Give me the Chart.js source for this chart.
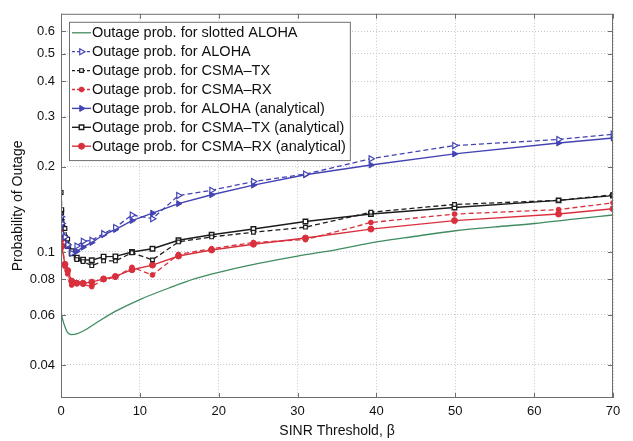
<!DOCTYPE html>
<html>
<head>
<meta charset="utf-8">
<script src="https://cdn.jsdelivr.net/npm/chart.js@4.4.1/dist/chart.umd.min.js"></script>
<style>
  html, body { margin: 0; padding: 0; background: #fff; }
  .chart-container { width: 633px; height: 441px; position: relative; }
</style>
</head>
<body>
<div class="chart-container"><canvas id="outageChart"></canvas></div>
<script>
// SINR thresholds of the simulated / analytical points
const betaPoints = [0.02, 0.1, 0.5, 0.85, 1.35, 2, 2.8, 3.9, 5.4, 6.9, 9, 11.6, 14.9, 19.1, 24.4, 31, 39.3, 49.9, 63.1, 70];

const alohaSim = [0.133, 0.126, 0.113, 0.106, 0.099, 0.105, 0.109, 0.110, 0.116, 0.122, 0.135, 0.131, 0.158, 0.165, 0.177, 0.188, 0.213, 0.237, 0.249, 0.26];
const alohaAna = [0.130, 0.124, 0.112, 0.105, 0.100, 0.1005, 0.104, 0.108, 0.115, 0.120, 0.129, 0.137, 0.148, 0.159, 0.172, 0.187, 0.2025, 0.2215, 0.242, 0.252];
const txSim = [0.162, 0.141, 0.121, 0.111, 0.101, 0.094, 0.0925, 0.0895, 0.093, 0.093, 0.0994, 0.0938, 0.1085, 0.113, 0.1173, 0.1223, 0.138, 0.147, 0.152, 0.159];
const txAna = [0.138, 0.125, 0.112, 0.105, 0.099, 0.0955, 0.094, 0.0935, 0.0963, 0.0965, 0.100, 0.1027, 0.110, 0.115, 0.1205, 0.128, 0.136, 0.1434, 0.152, 0.158];
const rxSim = [0.120, 0.110, 0.089, 0.0837, 0.0765, 0.078, 0.077, 0.0755, 0.080, 0.0815, 0.0883, 0.083, 0.098, 0.1027, 0.108, 0.1105, 0.127, 0.136, 0.141, 0.149];
const rxAna = [0.112, 0.105, 0.0905, 0.086, 0.079, 0.0776, 0.0776, 0.0783, 0.0804, 0.082, 0.0866, 0.0899, 0.0968, 0.1016, 0.1065, 0.112, 0.1204, 0.129, 0.136, 0.142];

// slotted ALOHA curve (no markers)
const slottedX = [0, 0.2, 0.5, 0.8, 1.3, 2, 3, 4, 5, 7, 10, 14, 17, 20, 24, 30, 35, 40, 45, 50, 55, 60, 65, 70];
const slottedY = [0.062, 0.058, 0.0545, 0.0522, 0.0512, 0.0515, 0.053, 0.0552, 0.0575, 0.062, 0.068, 0.0752, 0.0805, 0.0848, 0.0899, 0.0967, 0.102, 0.1085, 0.1136, 0.1188, 0.1225, 0.126, 0.1305, 0.135];

const xTicks = [0, 10, 20, 30, 40, 50, 60, 70];
const yTicks = [0.04, 0.06, 0.08, 0.1, 0.2, 0.3, 0.4, 0.5, 0.6];

const BLUE = '#4343b4';
const BLACK = '#1c1c1c';
const RED = '#d9303d';
const GREEN = '#3f8c60';

const pts = (xs, ys) => xs.map((x, i) => ({ x: x, y: ys[i] }));

const datasets = [
    {
        label: 'Outage prob. for slotted ALOHA',
        data: pts(slottedX, slottedY),
        borderColor: GREEN, borderWidth: 1.3,
        pointRadius: 0, cubicInterpolationMode: 'monotone'
    },
    {
        label: 'Outage prob. for ALOHA',
        data: pts(betaPoints, alohaSim),
        borderColor: BLUE, borderWidth: 1.3, borderDash: [5, 3],
        pointStyle: 'triangle', rotation: 90, pointRadius: 3.5,
        pointBackgroundColor: '#fff', pointBorderColor: BLUE, pointBorderWidth: 1.2
    },
    {
        label: 'Outage prob. for CSMA\u2013TX',
        data: pts(betaPoints, txSim),
        borderColor: BLACK, borderWidth: 1.3, borderDash: [5, 3],
        pointStyle: 'rect', pointRadius: 2.6,
        pointBackgroundColor: '#fff', pointBorderColor: BLACK, pointBorderWidth: 1.2
    },
    {
        label: 'Outage prob. for CSMA\u2013RX',
        data: pts(betaPoints, rxSim),
        borderColor: RED, borderWidth: 1.3, borderDash: [5, 3],
        pointStyle: 'circle', pointRadius: 2.4,
        pointBackgroundColor: RED, pointBorderColor: RED, pointBorderWidth: 1
    },
    {
        label: 'Outage prob. for ALOHA (analytical)',
        data: pts(betaPoints, alohaAna),
        borderColor: BLUE, borderWidth: 1.4,
        pointStyle: 'triangle', rotation: 90, pointRadius: 3.5,
        pointBackgroundColor: BLUE, pointBorderColor: BLUE, pointBorderWidth: 1
    },
    {
        label: 'Outage prob. for CSMA\u2013TX (analytical)',
        data: pts(betaPoints, txAna),
        borderColor: BLACK, borderWidth: 1.4,
        pointStyle: 'rect', pointRadius: 3.2,
        pointBackgroundColor: '#fff', pointBorderColor: BLACK, pointBorderWidth: 1.4
    },
    {
        label: 'Outage prob. for CSMA\u2013RX (analytical)',
        data: pts(betaPoints, rxAna),
        borderColor: RED, borderWidth: 1.4,
        pointStyle: 'circle', pointRadius: 3,
        pointBackgroundColor: RED, pointBorderColor: RED, pointBorderWidth: 1
    }
];

// frame, inside tick marks and the boxed legend in the upper-left corner
const framePlugin = {
    id: 'frame',
    afterDraw(chart) {
        const ctx = chart.ctx;
        const a = chart.chartArea;
        const xs = chart.scales.x, ys = chart.scales.y;
        ctx.save();
        ctx.strokeStyle = '#6e6e6e';
        ctx.lineWidth = 1;
        ctx.setLineDash([]);
        ctx.strokeRect(a.left + 0.5, a.top + 0.5, a.width - 1, a.height - 1);
        ctx.beginPath();
        xTicks.forEach(v => {
            const px = Math.round(xs.getPixelForValue(v)) + 0.5;
            ctx.moveTo(px, a.bottom); ctx.lineTo(px, a.bottom - 5);
            ctx.moveTo(px, a.top); ctx.lineTo(px, a.top + 5);
        });
        yTicks.forEach(v => {
            const py = Math.round(ys.getPixelForValue(v)) + 0.5;
            ctx.moveTo(a.left, py); ctx.lineTo(a.left + 5, py);
            ctx.moveTo(a.right, py); ctx.lineTo(a.right - 5, py);
        });
        ctx.stroke();

        // legend
        const bx = a.left + 8, by = a.top + 8, rowH = 18.9;
        ctx.font = '14.5px "Liberation Sans", Arial, sans-serif';
        let maxW = 0;
        chart.data.datasets.forEach(d => { maxW = Math.max(maxW, ctx.measureText(d.label).width); });
        const bw = 23 + maxW + 4, bh = chart.data.datasets.length * rowH + 6;
        ctx.fillStyle = '#fff';
        ctx.fillRect(bx, by, bw, bh);
        ctx.strokeStyle = '#6e6e6e';
        ctx.strokeRect(bx + 0.5, by + 0.5, bw, bh);
        chart.data.datasets.forEach((d, i) => {
            const cy = by + 11 + i * rowH;
            ctx.strokeStyle = d.borderColor;
            ctx.lineWidth = d.borderWidth;
            ctx.setLineDash(d.borderDash ? [3, 2] : []);
            ctx.beginPath();
            ctx.moveTo(bx + 3, cy); ctx.lineTo(bx + 22, cy);
            ctx.stroke();
            ctx.setLineDash([]);
            if (d.pointRadius > 0) {
                ctx.fillStyle = d.pointBackgroundColor;
                ctx.strokeStyle = d.pointBorderColor;
                ctx.lineWidth = d.pointBorderWidth;
                Chart.helpers.drawPoint(ctx, {
                    pointStyle: d.pointStyle, rotation: d.rotation || 0,
                    radius: d.pointRadius, borderWidth: d.pointBorderWidth
                }, bx + 12.5, cy);
            }
            ctx.fillStyle = '#111';
            ctx.textAlign = 'left';
            ctx.textBaseline = 'middle';
            ctx.fillText(d.label, bx + 23, cy + 0.5);
        });
        ctx.restore();
    }
};

const tickFont = { family: '"Liberation Sans", Arial, sans-serif', size: 13 };
const titleFont = { family: '"Liberation Sans", Arial, sans-serif', size: 14 };
const gridColor = '#c4c6d4';

const ctx = document.getElementById('outageChart').getContext('2d');
const outageChart = new Chart(ctx, {
    type: 'line',
    data: { datasets: datasets },
    options: {
        responsive: true,
        maintainAspectRatio: false,
        animation: false,
        layout: { padding: { top: 7, right: 20, left: 0, bottom: 0 } },
        scales: {
            x: {
                type: 'linear',
                min: 0, max: 70,
                afterBuildTicks: (scale) => { scale.ticks = xTicks.map(v => ({ value: v })); },
                afterFit: (scale) => { scale.height = 43; },
                ticks: { color: '#111', font: tickFont, padding: 6, maxRotation: 0 },
                grid: { color: gridColor, lineWidth: 1, drawTicks: false },
                border: { display: false, dash: [1, 2] },
                title: { display: true, text: 'SINR Threshold, \u03b2', color: '#111', font: titleFont, padding: { top: 0, bottom: 1 } }
            },
            y: {
                type: 'logarithmic',
                min: 0.0306, max: 0.69,
                afterBuildTicks: (scale) => { scale.ticks = yTicks.map(v => ({ value: v })); },
                afterFit: (scale) => { scale.width = 61; },
                ticks: {
                    color: '#111', font: tickFont, padding: 6,
                    callback: (value) => String(value)
                },
                grid: { color: gridColor, lineWidth: 1, drawTicks: false },
                border: { display: false, dash: [1, 2] },
                title: { display: true, text: 'Probability of Outage', color: '#111', font: titleFont, padding: { top: 10, bottom: 0 } }
            }
        },
        plugins: {
            legend: { display: false },
            tooltip: { enabled: false }
        }
    },
    plugins: [framePlugin]
});
</script>
</body>
</html>
